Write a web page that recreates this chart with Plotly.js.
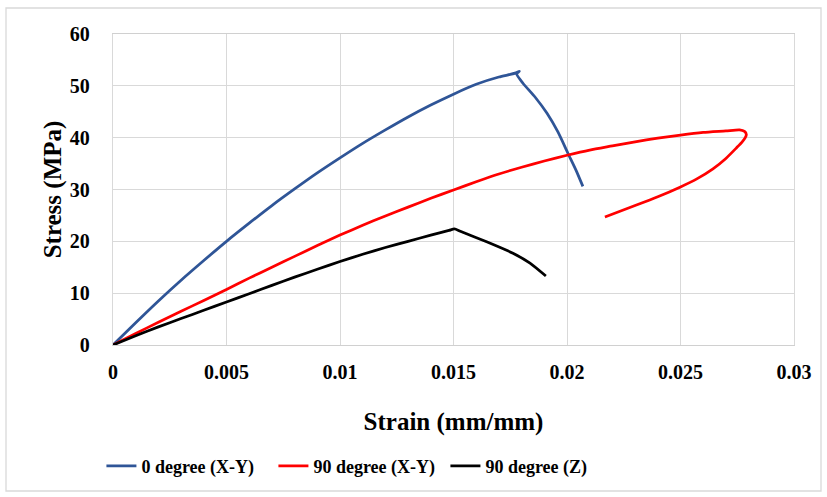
<!DOCTYPE html>
<html>
<head>
<meta charset="utf-8">
<script src="https://cdn.plot.ly/plotly-3.0.1.min.js"></script>
<style>
html,body{margin:0;padding:0;background:#fff;}
#chart{width:827px;height:497px;}
</style>
</head>
<body>
<div id="chart"></div>
<script>
// Series names
const seriesNames = ["0 degree (X-Y)", "90 degree (X-Y)", "90 degree (Z)"];

// 0 degree (X-Y)
const strain0 = [0, 0.001, 0.002, 0.003, 0.004, 0.005, 0.006, 0.007, 0.008, 0.009, 0.010, 0.011, 0.012, 0.013, 0.014, 0.015, 0.016, 0.017, 0.0175, 0.01775, 0.0179, 0.01778, 0.01806, 0.0186, 0.01912, 0.0196, 0.02004, 0.0204, 0.0207];
const stress0 = [0, 4.3, 8.5, 12.5, 16.3, 20.0, 23.5, 26.9, 30.1, 33.2, 36.1, 38.9, 41.5, 44.0, 46.3, 48.4, 50.3, 51.7, 52.2, 52.5, 52.8, 52.3, 50.5, 47.8, 44.7, 41.1, 37.0, 33.7, 30.6];

// 90 degree (X-Y)
const strain90 = [0, 0.001, 0.002, 0.003, 0.004, 0.005, 0.006, 0.007, 0.008, 0.009, 0.010, 0.011, 0.012, 0.013, 0.014, 0.015, 0.016, 0.017, 0.018, 0.019, 0.020, 0.021, 0.022, 0.023, 0.024, 0.025, 0.026, 0.027, 0.0276, 0.02782, 0.0279, 0.02784, 0.0277, 0.02748, 0.027, 0.02643, 0.0257, 0.025, 0.024, 0.023, 0.02167];
const stress90 = [0, 2.2, 4.4, 6.5, 8.6, 10.7, 12.9, 15.0, 17.1, 19.2, 21.2, 23.1, 24.9, 26.6, 28.3, 29.9, 31.5, 33.0, 34.3, 35.5, 36.6, 37.6, 38.4, 39.2, 39.9, 40.5, 41.0, 41.3, 41.5, 41.2, 40.6, 39.9, 39.1, 38.1, 36.0, 34.0, 32.0, 30.5, 28.6, 26.9, 24.7];

// 90 degree (Z)
const strainZ = [0, 0.001, 0.002, 0.003, 0.004, 0.005, 0.006, 0.007, 0.008, 0.009, 0.010, 0.011, 0.012, 0.013, 0.014, 0.0148, 0.01504, 0.0153, 0.01646, 0.01762, 0.01837, 0.01907];
const stressZ = [0, 1.8, 3.5, 5.1, 6.7, 8.3, 9.9, 11.5, 13.1, 14.6, 16.1, 17.5, 18.8, 20.0, 21.2, 22.1, 22.4, 21.95, 19.9, 17.7, 15.8, 13.3];

// Axis ticks
const xTicks = [0, 0.005, 0.01, 0.015, 0.02, 0.025, 0.03];
const xTickText = ["0", "0.005", "0.01", "0.015", "0.02", "0.025", "0.03"];
const yTicks = [0, 10, 20, 30, 40, 50, 60];

const colors = ["#2F5597", "#FF0000", "#000000"];
const font = "Liberation Serif, Times New Roman, serif";

const lineStyle = (c) => ({color: c, width: 2.75, shape: "spline", smoothing: 0.6});

const traces = [
  {x: strain0, y: stress0, name: seriesNames[0], mode: "lines", line: lineStyle(colors[0])},
  {x: strain90, y: stress90, name: seriesNames[1], mode: "lines", line: lineStyle(colors[1])},
  {x: strainZ, y: stressZ, name: seriesNames[2], mode: "lines", line: lineStyle(colors[2])}
];

const layout = {
  width: 827, height: 497,
  margin: {l: 113, r: 33, t: 34, b: 152},
  paper_bgcolor: "#fff", plot_bgcolor: "#fff",
  font: {family: font, color: "#000"},
  showlegend: true,
  legend: {orientation: "h", x: -0.017, xanchor: "left", y: -0.39, yanchor: "middle",
           font: {family: font, size: 18, weight: "bold"}, itemwidth: 30, tracegroupgap: 0,
           entrywidth: 127},
  xaxis: {
    range: [0, 0.03], tickvals: xTicks, ticktext: xTickText,
    showgrid: true, gridcolor: "#d9d9d9", gridwidth: 1,
    zeroline: false, showline: true, linecolor: "#d0d0d0", linewidth: 1.3, mirror: true,
    ticks: "", ticklabelstandoff: 9,
    tickfont: {family: font, size: 20, weight: "bold"},
    title: {text: "Strain (mm/mm)", font: {family: font, size: 25, weight: "bold"}, standoff: 30}
  },
  yaxis: {
    range: [0, 60], tickvals: yTicks,
    showgrid: true, gridcolor: "#d9d9d9", gridwidth: 1,
    zeroline: false, showline: true, linecolor: "#d9d9d9", linewidth: 1.3, mirror: true,
    ticks: "", ticklabelstandoff: 18,
    tickfont: {family: font, size: 20, weight: "bold"},
    title: {text: "Stress (MPa)", font: {family: font, size: 25, weight: "bold"}, standoff: 1}
  },
  shapes: [
    {type: "rect", xref: "paper", yref: "paper",
     x0: (6 - 113) / 681, x1: (821 - 113) / 681, y0: (345 - 491) / 311, y1: (345 - 8) / 311,
     line: {color: "#d9d9d9", width: 1.3}, fillcolor: "rgba(0,0,0,0)", layer: "below"}
  ]
};

Plotly.newPlot("chart", traces, layout, {staticPlot: true, displayModeBar: false});
</script>
</body>
</html>
